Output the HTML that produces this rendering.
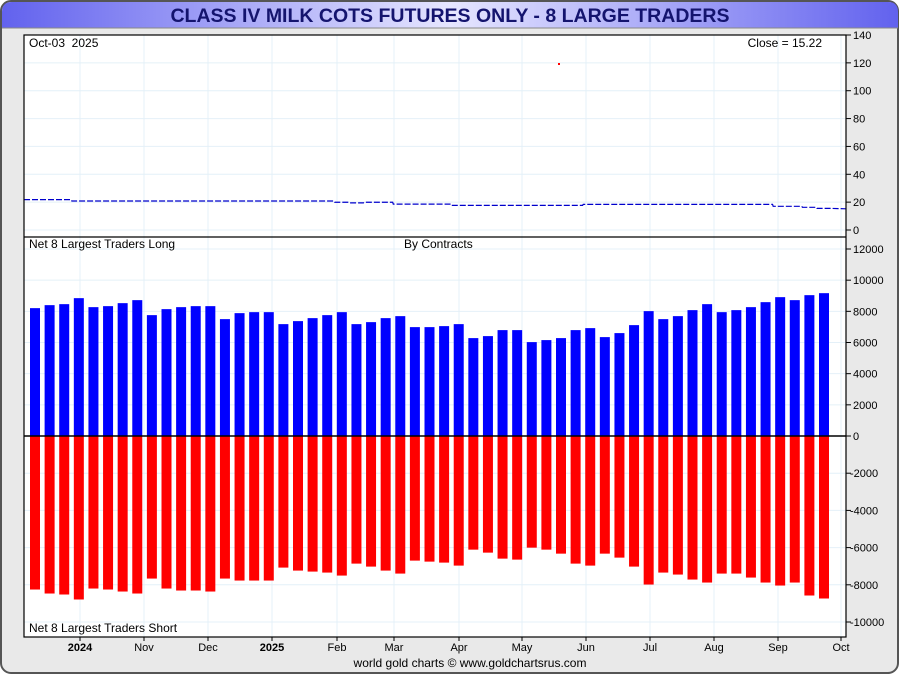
<!DOCTYPE html>
<html><head><meta charset="utf-8"><style>
body{margin:0;width:900px;height:675px;overflow:hidden;background:#fff;font-family:"Liberation Sans",sans-serif}
svg{display:block}
text{font-family:"Liberation Sans",sans-serif}
</style></head><body>
<svg id="c" width="900" height="675">
<defs><linearGradient id="tg" x1="0" x2="1"><stop offset="0" stop-color="#6262ee"/><stop offset="0.5" stop-color="#e6e6ff"/><stop offset="1" stop-color="#6262ee"/></linearGradient></defs>
<rect x="1" y="1" width="897" height="672" rx="10" fill="#e9e9e9" stroke="#555" stroke-width="2"/>
<path d="M2,28 L2,12 Q2,2 12,2 L888,2 Q898,2 898,12 L898,28 Z" fill="url(#tg)"/>
<line x1="2" y1="28" x2="898" y2="28" stroke="#888"/>
<text x="450" y="22" text-anchor="middle" font-size="19.5" font-weight="bold" fill="#14146e">CLASS IV MILK COTS FUTURES ONLY - 8 LARGE TRADERS</text>
<rect x="24" y="35" width="822" height="602" fill="#fff"/>
<g id="grid"></g><g id="bars"></g><g id="price"></g>
<rect x="24" y="35" width="822" height="602" fill="none" stroke="#000" stroke-width="1.2"/>
<line x1="24" y1="237" x2="846" y2="237" stroke="#000" stroke-width="1.2"/>
<g id="axes" font-size="11"></g>
<text x="29" y="47" font-size="12" xml:space="preserve">Oct-03  2025</text>
<text x="822" y="47" font-size="12" text-anchor="end">Close = 15.22</text>
<text x="29" y="248" font-size="12">Net 8 Largest Traders Long</text>
<text x="404" y="248" font-size="12">By Contracts</text>
<text x="29" y="632" font-size="12">Net 8 Largest Traders Short</text>
<text x="470" y="667" font-size="12" text-anchor="middle">world gold charts © www.goldchartsrus.com</text>
</svg>
<script>
const longs=[8205,8397,8461,8846,8269,8333,8525,8718,7756,8141,8269,8333,8333,7500,7884,7948,7948,7179,7372,7564,7756,7948,7179,7307,7564,7692,6987,6987,7051,7179,6282,6410,6795,6795,6025,6154,6282,6795,6923,6346,6603,7115,8013,7500,7692,8077,8461,7948,8077,8269,8589,8910,8718,9038,9166];
const shorts=[-8254,-8469,-8522,-8790,-8201,-8254,-8362,-8469,-7665,-8201,-8308,-8308,-8362,-7665,-7772,-7772,-7772,-7075,-7236,-7290,-7343,-7504,-6861,-7022,-7236,-7397,-6700,-6754,-6807,-6968,-6110,-6271,-6593,-6646,-6003,-6110,-6325,-6861,-6968,-6325,-6539,-7022,-7986,-7343,-7450,-7718,-7879,-7397,-7397,-7611,-7879,-8040,-7879,-8576,-8737];
const prices=[21.8,21.8,21.8,20.8,20.8,20.8,20.8,20.8,20.8,20.8,20.8,20.8,20.8,20.8,20.8,20.8,20.8,20.8,20.8,20.8,20.8,19.9,19.5,19.9,19.9,18.6,18.6,18.6,18.6,17.7,17.7,17.7,17.7,17.7,17.7,17.7,17.7,17.7,18.4,18.4,18.4,18.4,18.4,18.4,18.4,18.4,18.4,18.4,18.4,18.4,18.4,17.0,17.0,16.3,15.5];
const topTicks=[140,120,100,80,60,40,20,0];
const botTicks=[12000,10000,8000,6000,4000,2000,0,-2000,-4000,-6000,-8000,-10000];
const months=["2024","Nov","Dec","2025","Feb","Mar","Apr","May","Jun","Jul","Aug","Sep","Oct"];
const monthX=[80,144,208,272,337,394,459,522,586,650,714,778,841];
const NS="http://www.w3.org/2000/svg";
function mk(t,a,p){const e=document.createElementNS(NS,t);for(const k in a)e.setAttribute(k,a[k]);p.appendChild(e);return e;}
const xB=i=>35+i*(789/(longs.length-1));
const yTop=v=>230-v*(195/140);
const yBot=v=>v>=0?436-v*(187/12000):436-v*(186/10000);
const grid=document.getElementById('grid'),bars=document.getElementById('bars'),price=document.getElementById('price'),axes=document.getElementById('axes');
monthX.forEach(x=>{mk('line',{x1:x,y1:35,x2:x,y2:637,stroke:'#e4f0f8'},grid);});
topTicks.forEach(v=>{const y=yTop(v);mk('line',{x1:24,y1:y,x2:846,y2:y,stroke:'#e4f0f8'},grid);
 mk('line',{x1:846,y1:y,x2:851,y2:y,stroke:'#000'},axes);
 const t=mk('text',{x:853,y:y+4},axes);t.textContent=v;
 
 });
botTicks.forEach(v=>{const y=yBot(v);if(v!==0)mk('line',{x1:24,y1:y,x2:846,y2:y,stroke:'#e4f0f8'},grid);
 mk('line',{x1:846,y1:y,x2:851,y2:y,stroke:'#000'},axes);
 const t=mk('text',{x:v<0?850:853,y:y+4},axes);t.textContent=v;
 
 });
months.forEach((m,i)=>{const t=mk('text',{x:monthX[i],y:651,'text-anchor':'middle','font-weight':(m.length===4&&/\d/.test(m))?'bold':'normal'},axes);t.textContent=m;
 
 
 mk('line',{x1:monthX[i],y1:637,x2:monthX[i],y2:641,stroke:'#000'},axes);});
longs.forEach((v,i)=>{const x=xB(i)-5;const r=mk('rect',{x:x,y:yBot(v),width:10,height:yBot(0)-yBot(v),fill:'#0000ff'},bars);
 
 });
shorts.forEach((v,i)=>{const x=xB(i)-5;const r=mk('rect',{x:x,y:yBot(0),width:10,height:yBot(v)-yBot(0),fill:'#ff0000'},bars);
 
 });
mk('line',{x1:24,y1:yBot(0),x2:846,y2:yBot(0),stroke:'#000','stroke-width':1.5},bars);
let pts=[[24,yTop(prices[0])]];prices.forEach((p,i)=>{pts.push([xB(i)-7,yTop(p)]);pts.push([xB(i)+7,yTop(p)]);});
pts.push([846,yTop(15.22)]);
const pl=mk('polyline',{points:pts.map(p=>p.join(',')).join(' '),fill:'none',stroke:'#0000cc','stroke-width':1.2,'stroke-dasharray':'6 2'},price);


const d=mk('rect',{x:558,y:63,width:2,height:2,fill:'#ff0000'},price);


</script>
</body></html>
